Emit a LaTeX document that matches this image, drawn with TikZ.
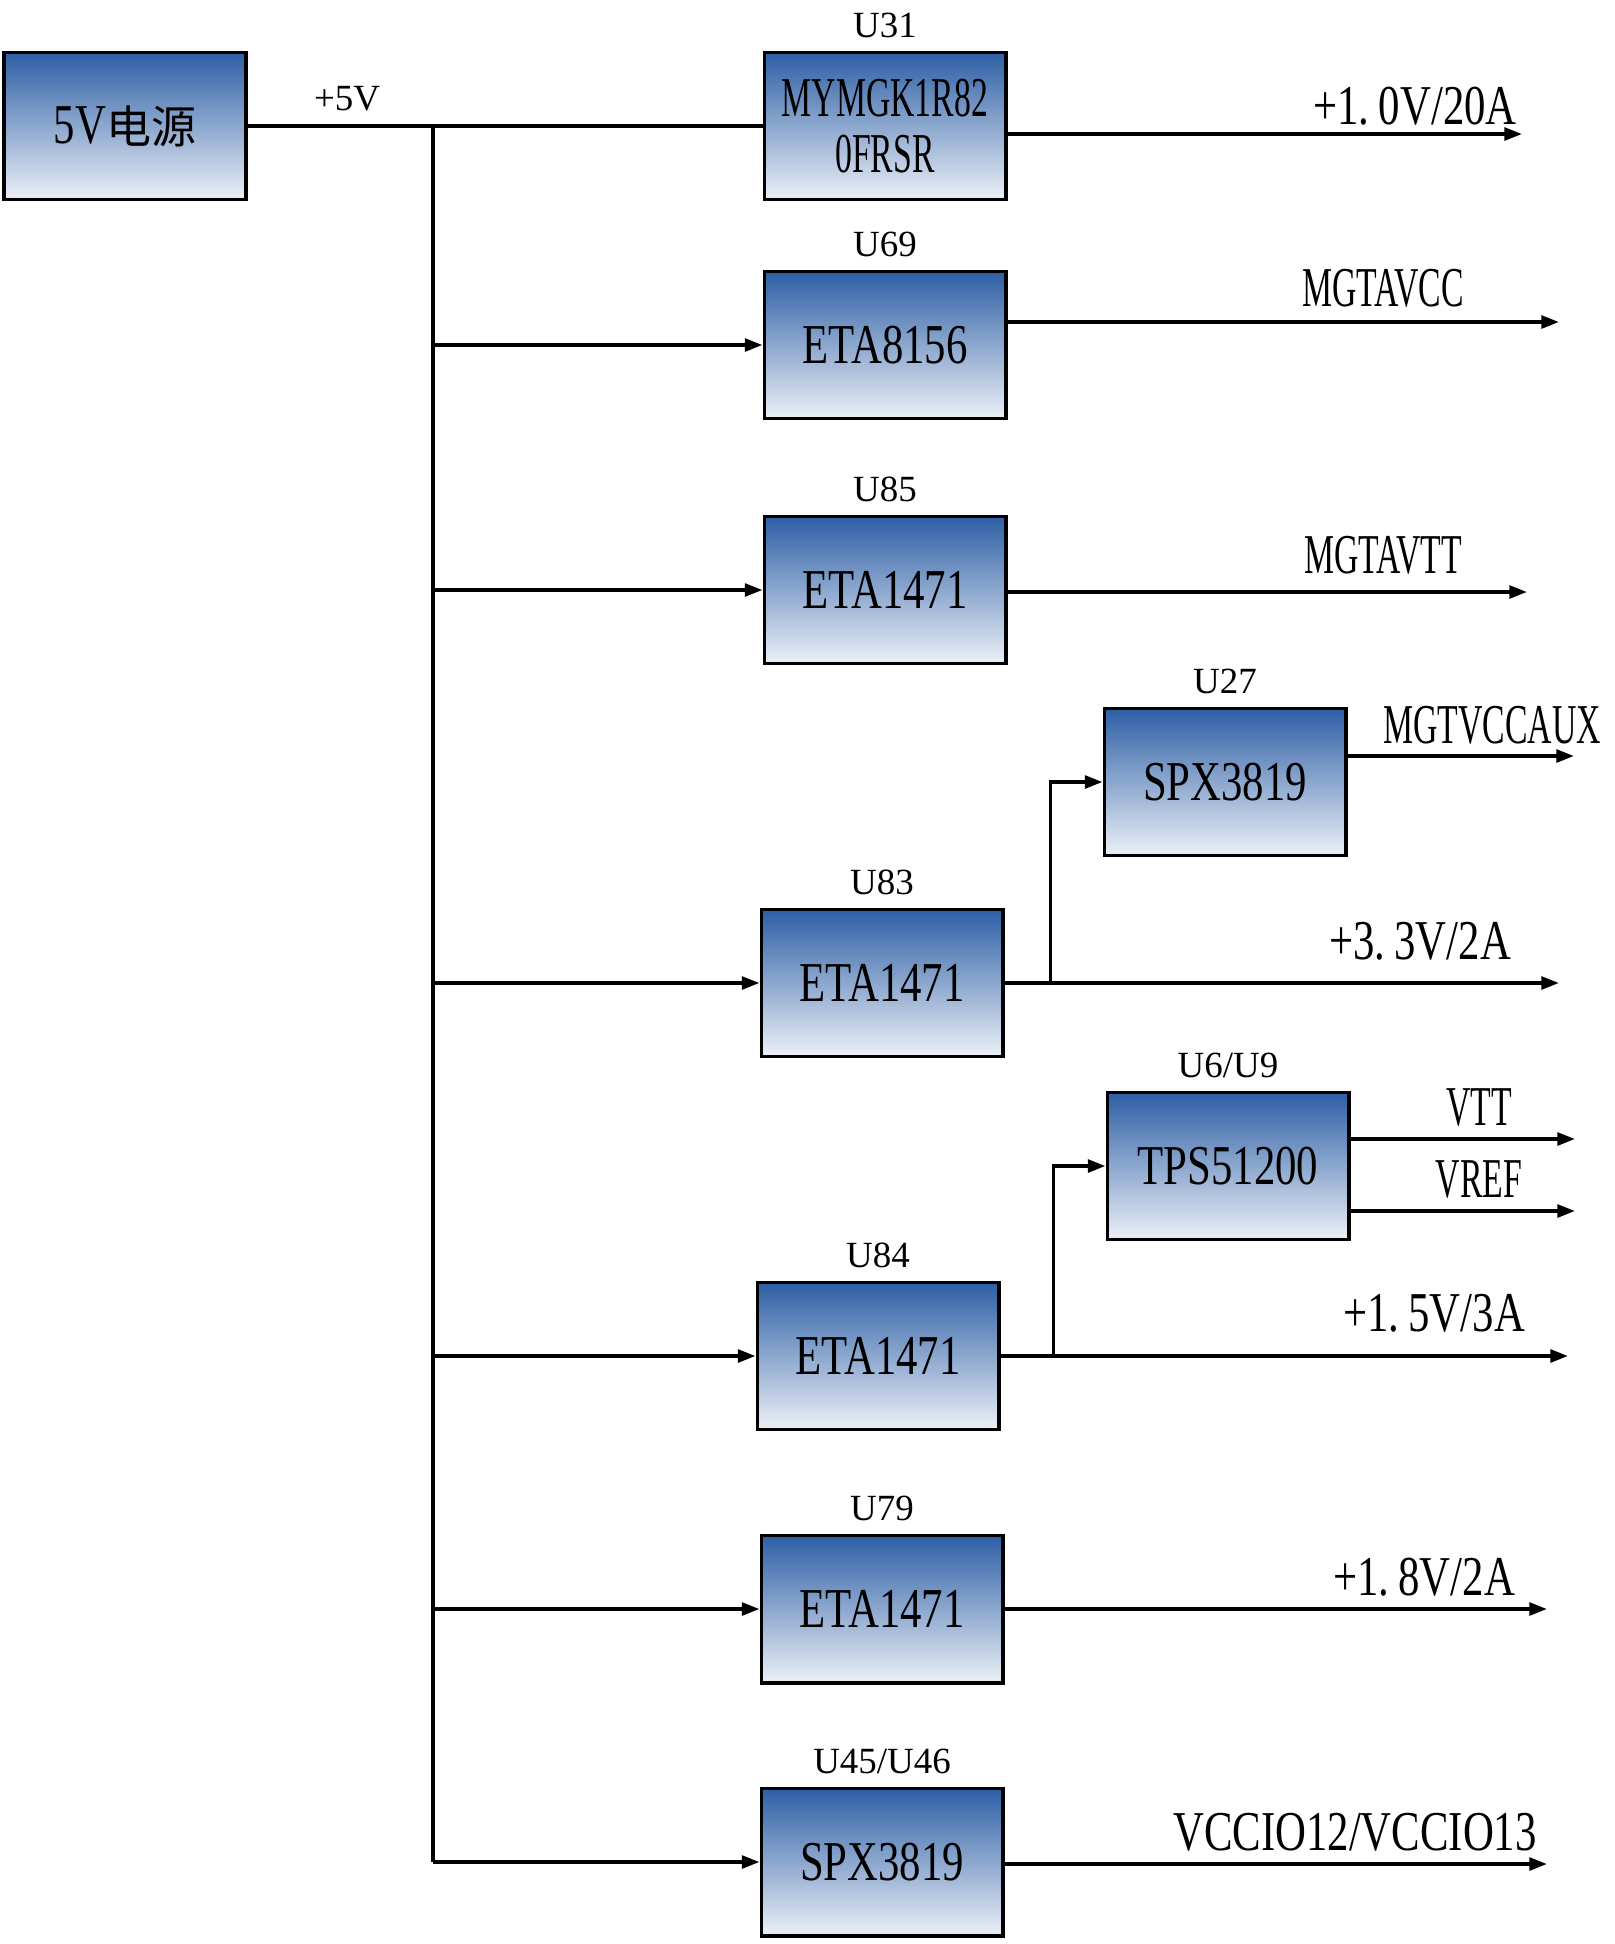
\documentclass[tikz,border=0pt]{standalone}
\usepackage{fontspec}
\setmainfont{Liberation Serif}
\newfontfamily\chipfont{Liberation Serif}[FakeStretch=0.76]
\newfontfamily\sigfont{Liberation Serif}[FakeStretch=0.6]
\newfontfamily\cjk{Noto Sans CJK SC}[Scale=0.8]
\usetikzlibrary{arrows.meta}
\definecolor{chiptop}{RGB}{45,95,165}
\definecolor{chipbottom}{RGB}{236,240,247}

\begin{document}
\begin{tikzpicture}[
  x=0.01cm, y=-0.01cm,
  chip/.style={draw=black, line width=1.1pt, top color=chiptop, bottom color=chipbottom, align=center, inner sep=0pt, minimum width=2.41cm, minimum height=1.47cm, font=\chipfont\fontsize{16}{16}\selectfont},
  narrow/.style={font=\sigfont\fontsize{16}{16}\selectfont},
  rail/.style={font=\chipfont\fontsize{16}{16}\selectfont},
  ulabel/.style={font=\fontsize{10.5}{12}\selectfont, inner sep=1pt},
  line/.style={-{Triangle[length=5pt,width=3.6pt]}, line width=1pt, draw=black},
  wire/.style={line width=1pt, draw=black}
]
\useasboundingbox (0,0) rectangle (1615,1944);

\node[chip] (power) at (125,126) {5V{\cjk 电源}};
\node[chip, narrow, label={[ulabel, label distance=2.5pt]above:U31}] (u31) at (885,126) {MYMGK1R82\\0FRSR};
\node[chip, label={[ulabel, label distance=2.5pt]above:U69}] (u69) at (885,345) {ETA8156};
\node[chip, label={[ulabel, label distance=2.5pt]above:U85}] (u85) at (885,590) {ETA1471};
\node[chip, label={[ulabel, label distance=2.5pt]above:U27}] (u27) at (1225,782) {SPX3819};
\node[chip, label={[ulabel, label distance=2.5pt]above:U83}] (u83) at (882,983) {ETA1471};
\node[chip, label={[ulabel, label distance=2.5pt]above:U6/U9}] (u6) at (1228,1166) {TPS51200};
\node[chip, label={[ulabel, label distance=2.5pt]above:U84}] (u84) at (878,1356) {ETA1471};
\node[chip, label={[ulabel, label distance=2.5pt]above:U79}] (u79) at (882,1609) {ETA1471};
\node[chip, label={[ulabel, label distance=2.5pt]above:U45/U46}] (u45) at (882,1862) {SPX3819};

\node[ulabel] (l5v) at (347,99) {+5V};
\node[rail] (l10) at (1415,106) {+1.\,0V/20A};
\node[narrow] (lmgtavcc) at (1383,288) {MGTAVCC};
\node[narrow] (lmgtavtt) at (1383,555) {MGTAVTT};
\node[narrow] (lmgtaux) at (1492,725) {MGTVCCAUX};
\node[rail] (l33) at (1420,941) {+3.\,3V/2A};
\node[narrow] (lvtt) at (1479,1107) {VTT};
\node[narrow] (lvref) at (1479,1179) {VREF};
\node[rail] (l15) at (1434,1313) {+1.\,5V/3A};
\node[rail] (l18) at (1424,1577) {+1.\,8V/2A};
\node[rail] (lvccio) at (1355,1832) {VCCIO12/VCCIO13};

\coordinate (bustop) at (433,126);
\coordinate (o31) at (1522,134);
\coordinate (o69) at (1559,322);
\coordinate (o85) at (1527,592);
\coordinate (o27) at (1574,756);
\coordinate (o83) at (1559,983);
\coordinate (vtt) at (1575,1139);
\coordinate (vref) at (1575,1211);
\coordinate (o84) at (1568,1356);
\coordinate (o79) at (1547,1609);
\coordinate (o45) at (1547,1864);

\draw[wire] (power.east) -- (u31.west);
\draw[wire] (bustop) -- (bustop |- u45.west);
\draw[line] (bustop |- u69.west) -- (u69.west);
\draw[line] (bustop |- u85.west) -- (u85.west);
\draw[line] (bustop |- u83.west) -- (u83.west);
\draw[line] (bustop |- u84.west) -- (u84.west);
\draw[line] (bustop |- u79.west) -- (u79.west);
\draw[line] (bustop |- u45.west) -- (u45.west);

\draw[line] (u31.east |- o31) -- (o31);
\draw[line] (u69.east |- o69) -- (o69);
\draw[line] (u85.east |- o85) -- (o85);
\draw[line] (u27.east |- o27) -- (o27);
\draw[line] (u83.east) -- (o83);
\draw[line] ([xshift=0.46cm]u83.east) |- (u27.west);
\draw[line] (u6.east |- vtt) -- (vtt);
\draw[line] (u6.east |- vref) -- (vref);
\draw[line] (u84.east) -- (o84);
\draw[line] ([xshift=0.53cm]u84.east) |- (u6.west);
\draw[line] (u79.east) -- (o79);
\draw[line] (u45.east |- o45) -- (o45);

\end{tikzpicture}
\end{document}
